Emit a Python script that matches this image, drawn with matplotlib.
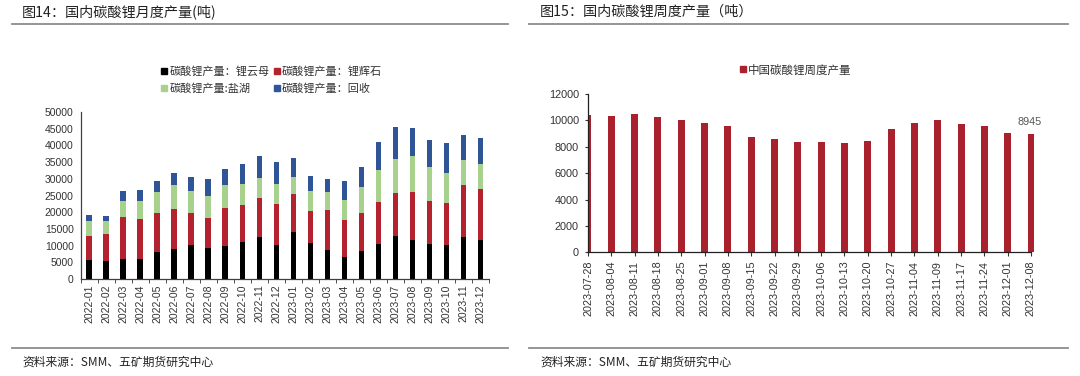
import matplotlib
matplotlib.use("Agg")
import matplotlib.pyplot as plt
from matplotlib.lines import Line2D
import numpy as np

plt.rcParams['font.family'] = ['Noto Sans CJK SC', 'DejaVu Sans']

# ---------------- data ----------------
months = ["2022-01", "2022-02", "2022-03", "2022-04", "2022-05", "2022-06",
          "2022-07", "2022-08", "2022-09", "2022-10", "2022-11", "2022-12",
          "2023-01", "2023-02", "2023-03", "2023-04", "2023-05", "2023-06",
          "2023-07", "2023-08", "2023-09", "2023-10", "2023-11", "2023-12"]
lepidolite = [5700, 5500, 6100, 6100, 8100, 8900, 10200, 9200, 10000, 11200, 12500, 10200,
              14200, 10900, 8600, 6600, 8400, 10400, 13000, 11600, 10400, 10200, 12700, 11600]
spodumene = [7200, 7900, 12400, 11800, 11700, 12200, 9700, 9000, 11400, 11000, 11800, 12400,
             11200, 9600, 12000, 11000, 11500, 12700, 12700, 14500, 13000, 12700, 15400, 15400]
salt_lake = [4600, 3900, 4900, 5500, 6300, 7000, 6500, 6700, 6700, 6300, 6000, 5700,
             5100, 5900, 5500, 6200, 7600, 9400, 10100, 10600, 10000, 8800, 7400, 7300]
recycle = [1600, 1500, 3000, 3300, 3300, 3600, 4200, 5000, 4800, 5900, 6400, 6700,
           5600, 4400, 3800, 5500, 5900, 8600, 9700, 8500, 8300, 8900, 7700, 8000]
series_names = ["碳酸锂产量：锂云母", "碳酸锂产量：锂辉石", "碳酸锂产量:盐湖", "碳酸锂产量：回收"]

weeks = ["2023-07-28", "2023-08-04", "2023-08-11", "2023-08-18", "2023-08-25",
         "2023-09-01", "2023-09-08", "2023-09-15", "2023-09-22", "2023-09-29",
         "2023-10-06", "2023-10-13", "2023-10-20", "2023-10-27", "2023-11-04",
         "2023-11-09", "2023-11-17", "2023-11-24", "2023-12-01", "2023-12-08"]
weekly = [10410, 10360, 10510, 10280, 10050, 9830, 9570, 8715, 8610, 8390,
          8340, 8260, 8440, 9350, 9830, 10050, 9750, 9550, 9020, 8945]
weekly_name = "中国碳酸锂周度产量"

title_left = "图14：国内碳酸锂月度产量(吨)"
title_right = "图15：国内碳酸锂周度产量（吨）"
source = "资料来源：SMM、五矿期货研究中心"

# ---------------- style ----------------
W, H = 1080, 376
fig = plt.figure(figsize=(W / 100, H / 100), dpi=100)
c_black = "#000000"
c_red = "#B3222F"
c_green = "#A9D18E"
c_blue = "#2F5597"
c_red2 = "#A9212C"
txt = "#333333"
num_font = ['Liberation Sans', 'DejaVu Sans']

def fx(px):
    return px / W

def fy(py):
    return 1 - py / H

# decorations: titles, rules, sources
for x0, x1 in [(12, 508), (529, 1068)]:
    fig.add_artist(Line2D([fx(x0), fx(x1)], [fy(24), fy(24)], color="#8c8c8c", lw=1.3))
    fig.add_artist(Line2D([fx(x0), fx(x1)], [fy(348), fy(348)], color="#8c8c8c", lw=1.3))
fig.text(fx(22), fy(12), title_left, fontsize=10.2, color="#222222", va="center", ha="left")
fig.text(fx(540), fy(12), title_right, fontsize=10.2, color="#222222", va="center", ha="left")
fig.text(fx(22), fy(362), source, fontsize=8.5, color="#222222", va="center", ha="left")
fig.text(fx(540), fy(362), source, fontsize=8.5, color="#222222", va="center", ha="left")

# ---------------- left chart ----------------
axL = fig.add_axes([fx(80.7), fy(279), fx(489 - 80.7), (279 - 112) / H])
x = np.arange(len(months))
bw = 0.33
bottom = np.zeros(len(months))
handles = []
for vals, col, name in zip([lepidolite, spodumene, salt_lake, recycle],
                           [c_black, c_red, c_green, c_blue], series_names):
    axL.bar(x, vals, bw, bottom=bottom, color=col, linewidth=0)
    bottom += np.array(vals)
    handles.append(Line2D([], [], marker="s", color=col, linestyle="none", markersize=4.5, label=name))
axL.set_xlim(-0.5, len(months) - 0.5)
axL.set_ylim(0, 50000)
axL.set_yticks(np.arange(0, 50001, 5000))
axL.set_xticks(x)
axL.set_xticklabels(months, rotation=90, fontsize=7.5, color=txt, family=num_font)
axL.tick_params(axis="x", which="major", length=0, pad=4)
axL.set_xticks(np.arange(-0.5, len(months), 1), minor=True)
axL.tick_params(axis="x", which="minor", length=3, direction="out", color="#333333")
axL.tick_params(axis="y", length=0, pad=5, labelsize=7.5, labelcolor=txt)
for lab in axL.get_yticklabels():
    lab.set_family(num_font)
for s in ["top", "right"]:
    axL.spines[s].set_visible(False)
for s in ["left", "bottom"]:
    axL.spines[s].set_color("#404040")
    axL.spines[s].set_linewidth(0.9)
order = [handles[0], handles[2], handles[1], handles[3]]
fig.legend(handles=order, ncol=2, loc="center", bbox_to_anchor=(fx(271), fy(80)),
           frameon=False, fontsize=8, handlelength=0.7, handletextpad=0.1,
           columnspacing=0.3, labelspacing=0.55, labelcolor=txt, borderpad=0)

# ---------------- right chart ----------------
axR = fig.add_axes([fx(588), fy(252.3), fx(1031 - 588), (252.3 - 94) / H])
xr = np.arange(len(weeks))
bars = axR.bar(xr, weekly, 0.3, color=c_red2, linewidth=0)
bars[-1].set_clip_on(False)
axR.set_xlim(0, len(weeks) - 1)
axR.set_ylim(0, 12000)
axR.set_yticks(np.arange(0, 12001, 2000))
axR.set_xticks(xr)
axR.set_xticklabels(weeks, rotation=90, fontsize=7.8, color=txt, family=num_font)
axR.tick_params(axis="x", length=3, direction="out", color="#333333", pad=3)
axR.tick_params(axis="y", length=2.5, direction="out", pad=4, labelsize=7.8, labelcolor=txt, color="#333333")
for lab in axR.get_yticklabels():
    lab.set_family(num_font)
for s in ["top", "right"]:
    axR.spines[s].set_visible(False)
for s in ["left", "bottom"]:
    axR.spines[s].set_color("#202020")
    axR.spines[s].set_linewidth(0.9)
axR.annotate(f"{weekly[-1]}", (xr[-1], weekly[-1]), xytext=(-1, 9), textcoords="offset points",
             ha="center", va="center", fontsize=7.8, color="#555555", family=num_font,
             annotation_clip=False)
hr = [Line2D([], [], marker="s", color=c_red2, linestyle="none", markersize=4.5, label=weekly_name)]
fig.legend(handles=hr, loc="center", bbox_to_anchor=(fx(795), fy(70)), frameon=False,
           fontsize=8.3, handlelength=0.7, handletextpad=0.1, labelcolor=txt, borderpad=0)

fig.savefig("out.png", dpi=100)
